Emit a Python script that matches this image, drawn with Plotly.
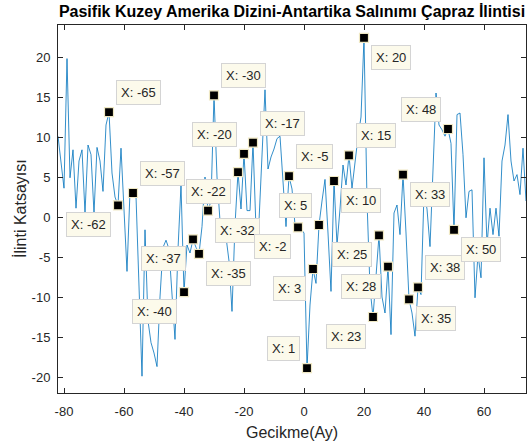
import plotly.graph_objects as go

# ---------------- data ----------------
lags = list(range(-82, 75))
corr = [
    10.1, 6.8, 3.6, 19.8, 4.9, 8.4, 1.1, 7.0, 8.4, 0.5,      # -82 .. -73
    9.0, 7.8, 0.5, 8.7, 7.0, 3.2, 11.5, 13.1, 5.5, 2.5,      # -72 .. -63
    1.45, 8.6, 1.0, -6.8, 3.2, 3.0, 2.6, -9.5, -19.9, -1.6,  # -62 .. -53
    -13.0, -15.7, -17.0, -18.7, -10.0, -3.8, -2.9, -4.0, -10.0, -15.3,  # -52 .. -43
    -4.0, 4.0, -9.4, -3.5, -4.5, -2.8, -3.8, -4.6, -1.2, 5.0,  # -42 .. -33
    0.8, 2.0, 15.2, 5.0, -0.5, -1.5, -2.5, -5.5, -11.8, -1.0,  # -32 .. -23
    5.6, 1.0, 7.9, 0.8, 0.8, 9.3, -1.5, -0.5, 7.0, 15.9,     # -22 .. -13
    6.0, 7.5, 8.5, 9.8, 10.1, 4.5, -1.2, 5.1, 3.5, -1.0,     # -12 .. -3
    -1.3, -1.5, -2.0, -18.9, -11.0, -6.5, -8.3, -1.0, 2.0, 4.7,  # -2 .. 7
    -2.0, -9.3, 4.5, -3.5, 1.0, 6.5, 4.0, 7.7, 3.6, 7.0,     # 8 .. 17
    10.0, 12.5, 22.4, 2.0, -8.9, -12.5, -7.0, -2.3, -10.0, -12.0,  # 18 .. 27
    -6.2, -14.7, 0.5, 1.5, -2.2, 5.3, -2.0, -10.3, -12.0, -14.9,  # 28 .. 37
    -8.8, -9.7, 3.0, 1.0, -3.7, 6.0, 15.5, 11.5, 10.9, 10.1,  # 38 .. 47
    11.0, 9.2, -1.6, 12.8, 13.0, 7.8, -0.1, 3.2, 3.4, -10.1,  # 48 .. 57
    -4.7, -7.6, 7.4, -3.5, 1.1, -2.2, 1.1, -2.4, 7.0, 9.0,   # 58 .. 67
    12.8, 7.0, 4.5, 5.3, 2.8, 8.6, 2.0,                      # 68 .. 74
]

tip_lags = [-65, -62, -57, -40, -37, -35, -32, -30, -22, -20, -17, -5, -2,
            1, 3, 5, 10, 15, 20, 23, 25, 28, 33, 35, 38, 48, 50]
# label placement relative to each tip: (horizontal, vertical)
tip_place = {
    -65: ("r", "u"), -62: ("l", "d"), -57: ("r", "u"), -40: ("l", "d"),
    -37: ("l", "d"), -35: ("r", "d"), -32: ("r", "d"), -30: ("r", "u"),
    -22: ("l", "d"), -20: ("l", "u"), -17: ("r", "u"), -5: ("r", "u"),
    -2: ("l", "d"), 1: ("l", "u"), 3: ("l", "d"), 5: ("l", "u"),
    10: ("r", "d"), 15: ("r", "u"), 20: ("r", "d"), 23: ("l", "d"),
    25: ("l", "d"), 28: ("l", "d"), 33: ("r", "d"), 35: ("r", "d"),
    38: ("r", "u"), 48: ("l", "u"), 50: ("r", "d"),
}

x_tickvals = [-80, -60, -40, -20, 0, 20, 40, 60]
x_ticktext = ["-80", "-60", "-40", "-20", "0", "20", "40", "60"]
y_tickvals = [-20, -15, -10, -5, 0, 5, 10, 15, 20]
y_ticktext = ["-20", "-15", "-10", "-5", "0", "5", "10", "15", "20"]

title_text = "Pasifik Kuzey Amerika Dizini-Antartika Salınımı Çapraz İlintisi"
xlabel = "Gecikme(Ay)"
ylabel = "İlinti Katsayısı"

# ---------------- figure ----------------
FONT = "Liberation Sans, Arial, Helvetica, sans-serif"
AX = "#262626"

tip_vals = [corr[lags.index(l)] for l in tip_lags]

fig = go.Figure()
fig.add_trace(go.Scatter(
    x=lags, y=corr, mode="lines",
    line=dict(color="#0072BD", width=0.8),
    hoverinfo="skip", showlegend=False,
))
fig.add_trace(go.Scatter(
    x=tip_lags, y=tip_vals, mode="markers",
    marker=dict(symbol="square", size=9, color="black",
                line=dict(color="#efe8c4", width=1.2)),
    hoverinfo="skip", showlegend=False,
))

annotations = []
for l, v in zip(tip_lags, tip_vals):
    h, vv = tip_place[l]
    annotations.append(dict(
        x=l, y=v, xref="x", yref="y", text=f"X: {l}", showarrow=False,
        xanchor="left" if h == "r" else "right",
        yanchor="bottom" if vv == "u" else "top",
        xshift=7 if h == "r" else -7,
        yshift=7 if vv == "u" else -7,
        bgcolor="#fcfaeb", bordercolor="#d4d4d4", borderwidth=1, borderpad=4,
        font=dict(family=FONT, size=13, color=AX),
    ))

annotations.append(dict(
    x=0.5, y=0, xref="paper", yref="paper", yshift=-39, yanchor="middle",
    text=xlabel, showarrow=False, font=dict(family=FONT, size=16, color=AX)))
annotations.append(dict(
    x=0, y=0.5, xref="paper", yref="paper", xshift=-38, xanchor="center",
    yanchor="middle", textangle=-90,
    text=ylabel, showarrow=False, font=dict(family=FONT, size=16, color=AX)))

fig.update_layout(
    width=529, height=448,
    margin=dict(l=58, r=3, t=25, b=55),
    paper_bgcolor="white", plot_bgcolor="white",
    title=dict(text=f"<b>{title_text}</b>", x=0.5, xref="paper",
               y=1 - 11 / 448, yref="container", yanchor="middle",
               font=dict(family=FONT, size=16, color="black")),
    annotations=annotations,
    xaxis=dict(range=[-82, 74], tickvals=x_tickvals, ticktext=x_ticktext,
               ticks="inside", ticklen=5, tickcolor=AX, tickwidth=1,
               showline=True, linecolor=AX, linewidth=1, mirror="ticks",
               showgrid=False, zeroline=False, ticklabelstandoff=6,
               tickfont=dict(family=FONT, size=13, color=AX)),
    yaxis=dict(range=[-22, 24], tickvals=y_tickvals, ticktext=y_ticktext,
               ticks="inside", ticklen=5, tickcolor=AX, tickwidth=1,
               showline=True, linecolor=AX, linewidth=1, mirror="ticks",
               showgrid=False, zeroline=False, ticklabelstandoff=4,
               tickfont=dict(family=FONT, size=13, color=AX)),
)

fig.write_html(
    "out.html",
    config={"displayModeBar": False, "staticPlot": True},
    post_script="document.body.style.margin='0';document.body.style.padding='0';",
)
